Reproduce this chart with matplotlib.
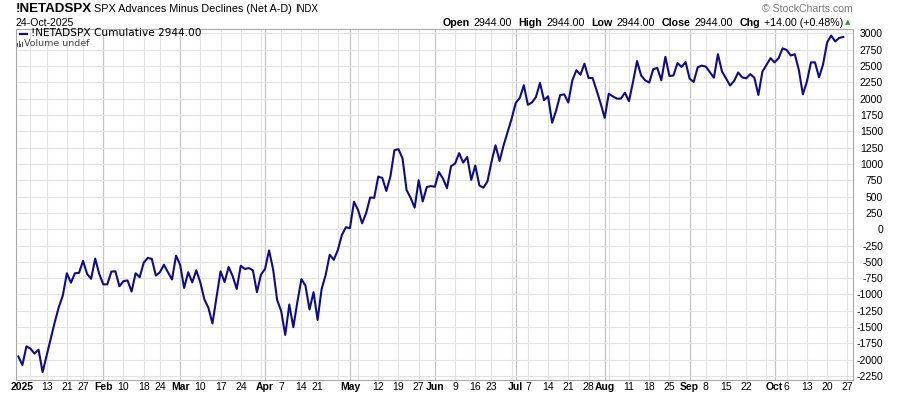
import matplotlib
matplotlib.use('Agg')
import matplotlib.pyplot as plt
import matplotlib.patches as mpatches
import numpy as np
import pandas as pd

# chart data: cumulative net advances - declines, one value per trading day
# from 31-Dec-2024 to 24-Oct-2025
start_date = '2024-12-31'
end_date = '2025-10-24'
holidays = ['2025-01-01', '2025-01-09', '2025-01-20', '2025-02-17', '2025-04-18',
            '2025-05-26', '2025-06-19', '2025-07-04', '2025-09-01']

net_ad = [
    -1950, -2080, -1795, -1830, -1905, -1845, -2190, -1935, -1680, -1425,
    -1195, -1015, -675, -820, -675, -670, -485, -685, -760, -450,
    -685, -845, -845, -650, -645, -875, -795, -785, -955, -675,
    -735, -515, -440, -455, -710, -660, -545, -660, -770, -405,
    -545, -900, -660, -815, -630, -815, -1075, -1205, -1445, -1050,
    -645, -810, -580, -720, -915, -560, -610, -595, -630, -965,
    -695, -610, -325, -615, -1085, -1255, -1620, -1155, -1500, -1115,
    -765, -865, -1230, -965, -1390, -915, -700, -390, -470, -320,
    -90, 30, 15, 420, 295, 90, 245, 485, 480, 805,
    785, 585, 805, 1210, 1225, 1085, 600, 480, 330, 750,
    425, 645, 660, 650, 875, 775, 630, 965, 1005, 1165,
    1020, 1105, 755, 975, 670, 635, 730, 1030, 1285, 1045,
    1285, 1490, 1695, 1935, 2010, 2205, 1905, 1940, 2025, 2240,
    1975, 2035, 1630, 1820, 2055, 2065, 1940, 2280, 2435, 2365,
    2535, 2315, 2315, 2125, 1925, 1705, 2075, 2035, 2000, 2000,
    2090, 1960, 2255, 2575, 2355, 2280, 2245, 2450, 2470, 2280,
    2640, 2345, 2355, 2545, 2485, 2560, 2305, 2255, 2480, 2505,
    2490, 2405, 2320, 2680, 2415, 2310, 2200, 2270, 2400, 2325,
    2310, 2375, 2320, 2055, 2415, 2515, 2620, 2555, 2620, 2770,
    2745, 2660, 2680, 2440, 2065, 2260, 2555, 2555, 2325, 2525,
    2860, 2965, 2875, 2930, 2944,
]

tick_dates = ['2025-01-02', '2025-01-13', '2025-01-21', '2025-01-27', '2025-02-03',
              '2025-02-10', '2025-02-18', '2025-02-24', '2025-03-03', '2025-03-10',
              '2025-03-17', '2025-03-24', '2025-04-01', '2025-04-07', '2025-04-14',
              '2025-04-21', '2025-05-01', '2025-05-12', '2025-05-19', '2025-05-27',
              '2025-06-02', '2025-06-09', '2025-06-16', '2025-06-23', '2025-07-01',
              '2025-07-07', '2025-07-14', '2025-07-21', '2025-07-28', '2025-08-01',
              '2025-08-11', '2025-08-18', '2025-08-25', '2025-09-02', '2025-09-08',
              '2025-09-15', '2025-09-22', '2025-10-01', '2025-10-06', '2025-10-13',
              '2025-10-20', '2025-10-27']
tick_labels = ['2025', '13', '21', '27', 'Feb', '10', '18', '24', 'Mar', '10',
               '17', '24', 'Apr', '7', '14', '21', 'May', '12', '19', '27',
               'Jun', '9', '16', '23', 'Jul', '7', '14', '21', '28', 'Aug',
               '11', '18', '25', 'Sep', '8', '15', '22', 'Oct', '6', '13',
               '20', '27']

y_ticks = list(range(-2250, 3001, 250))

symbol = '!NETADSPX'
long_name = 'SPX Advances Minus Declines (Net A-D)'
exchange = 'INDX'
date_text = '24-Oct-2025'
open_val = 2944.00
high_val = 2944.00
low_val = 2944.00
close_val = 2944.00
chg_val = 14.00
chg_pct = 0.48

W, H = 900, 396
LINE_COLOR = '#0c0c8c'
FONT = 'Liberation Sans'

# trading calendar (run a week past the last bar so the 27 tick fits)
all_days = pd.bdate_range(start_date, '2025-10-31')
all_days = all_days[~all_days.isin(pd.to_datetime(holidays))]
n = len(net_ad)
x = np.arange(n)
day_pos = {d: i for i, d in enumerate(all_days)}

fig = plt.figure(figsize=(W / 100, H / 100), dpi=100)
ax = fig.add_axes([16 / W, 1 - 380 / H, (853 - 16) / W, (380 - 29) / H])

# vertical grid: first trading day of each week, darker at month starts
prev_week = None
prev_month = None
for d in all_days:
    i = day_pos[d]
    if d < pd.Timestamp('2025-01-02'):
        continue
    wk = d.isocalendar()[1]
    if prev_month is not None and d.month != prev_month:
        ax.axvline(i, color='#c4c4c4', lw=0.9, zorder=1)
    elif prev_week is not None and wk != prev_week:
        ax.axvline(i, color='#e2e2e2', lw=0.8, zorder=1)
    prev_week = wk
    prev_month = d.month

for v in y_ticks:
    ax.axhline(v, color='#e2e2e2', lw=0.8, zorder=1)

ax.plot(x, net_ad, color=LINE_COLOR, lw=1.5, zorder=3, solid_joinstyle='round')

ax.set_xlim(-0.58, 206.4)
ax.set_ylim(-2310, 3066)

for side in ['left', 'right', 'top']:
    ax.spines[side].set_color('#a8a8a8')
    ax.spines[side].set_linewidth(0.8)
ax.spines['bottom'].set_color('#a8a8a8')
ax.spines['bottom'].set_linestyle((0, (1, 1)))
ax.spines['bottom'].set_linewidth(0.8)

# y axis on the right, labels right-aligned
ax.yaxis.tick_right()
ax.set_yticks(y_ticks, [str(v) for v in y_ticks], ha='right')
ax.tick_params(axis='y', length=0, pad=21.6, labelsize=7.5)

tick_pos = [day_pos[pd.Timestamp(d)] for d in tick_dates]
ax.set_xticks(tick_pos, tick_labels)
ax.tick_params(axis='x', length=0, pad=1.5, labelsize=7.5)
for lbl in ax.get_xticklabels():
    if not lbl.get_text().isdigit() or lbl.get_text() == '2025':
        lbl.set_fontweight('bold')
for lbl in ax.get_xticklabels() + ax.get_yticklabels():
    lbl.set_fontfamily(FONT)

# header, left side
fig.text(16 / W, 1 - 8.5 / H, symbol, fontsize=9.6, fontweight='bold',
         family=FONT, va='center', ha='left')
fig.text(94 / W, 1 - 9.5 / H, long_name, fontsize=7.8, family=FONT,
         va='center', ha='left')
fig.text(295 / W, 1 - 9.5 / H, exchange, fontsize=6.9, family=FONT,
         va='center', ha='left')
fig.text(16 / W, 1 - 23.5 / H, date_text, fontsize=7.6, family=FONT,
         va='center', ha='left')

# header, right side: OHLC values
renderer = fig.canvas.get_renderer()
segs = [('Open', 'bold', 4), (f'{open_val:.2f}', 'normal', 6.5),
        ('High', 'bold', 4), (f'{high_val:.2f}', 'normal', 6.5),
        ('Low', 'bold', 4), (f'{low_val:.2f}', 'normal', 6.5),
        ('Close', 'bold', 4), (f'{close_val:.2f}', 'normal', 6.5),
        ('Chg', 'bold', 4), (f'+{chg_val:.2f} (+{chg_pct:.2f}%)', 'normal', 0)]
texts = []
for s, w, gap in segs:
    t = fig.text(0, 1 - 23 / H, s, fontsize=7.7, fontweight=w, family=FONT,
                 va='center', ha='left')
    texts.append((t, gap))
widths = [t.get_window_extent(renderer).width for t, g in texts]
total = sum(widths) + sum(g for t, g in texts)
xpos = 843 - total
for (t, gap), wd in zip(texts, widths):
    t.set_x(xpos / W)
    xpos += wd + gap
fig.text(848 / W, 1 - 22.5 / H, '\u25b2', fontsize=5, color='#2e9a2e',
         family='DejaVu Sans', va='center', ha='center')

fig.text(853 / W, 1 - 9.5 / H, '\u00a9 StockCharts.com', fontsize=7.6,
         color='#7a7a7a', family=FONT, va='center', ha='right')

# legend inside the chart
fig.add_artist(plt.Line2D([20 / W, 27 / W], [1 - 33.5 / H, 1 - 33.5 / H],
                          color=LINE_COLOR, lw=1.6))
fig.text(31 / W, 1 - 33.5 / H, f'{symbol} Cumulative {close_val:.2f}',
         fontsize=7.6, family='DejaVu Sans', va='center', ha='left')
for bx, bh in [(17, 4), (18.6, 6), (20.2, 3), (21.8, 5)]:
    fig.add_artist(mpatches.Rectangle((bx / W, 1 - 47 / H), 1.1 / W, bh / H,
                                      color='#555555', lw=0))
fig.text(23.5 / W, 1 - 43.5 / H, 'Volume undef', fontsize=6.8,
         family='DejaVu Sans', color='#444444', va='center', ha='left')

fig.savefig('out.png', dpi=100)
